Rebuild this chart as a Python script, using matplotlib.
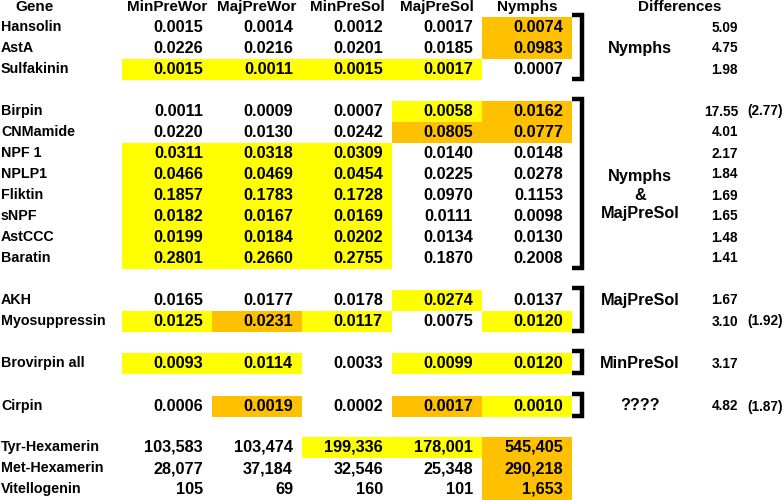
import matplotlib
matplotlib.use("Agg")
from matplotlib import pyplot as plt

# table data
columns = ["MinPreWor", "MajPreWor", "MinPreSol", "MajPreSol", "Nymphs"]

blocks = [
    ["Hansolin", "AstA", "Sulfakinin"],
    ["Birpin", "CNMamide", "NPF 1", "NPLP1", "Fliktin", "sNPF", "AstCCC", "Baratin"],
    ["AKH", "Myosuppressin"],
    ["Brovirpin all"],
    ["Cirpin"],
    ["Tyr-Hexamerin", "Met-Hexamerin", "Vitellogenin"],
]

min_pre_wor = [0.0015, 0.0226, 0.0015,
               0.0011, 0.0220, 0.0311, 0.0466, 0.1857, 0.0182, 0.0199, 0.2801,
               0.0165, 0.0125, 0.0093, 0.0006, 103583, 28077, 105]
maj_pre_wor = [0.0014, 0.0216, 0.0011,
               0.0009, 0.0130, 0.0318, 0.0469, 0.1783, 0.0167, 0.0184, 0.2660,
               0.0177, 0.0231, 0.0114, 0.0019, 103474, 37184, 69]
min_pre_sol = [0.0012, 0.0201, 0.0015,
               0.0007, 0.0242, 0.0309, 0.0454, 0.1728, 0.0169, 0.0202, 0.2755,
               0.0178, 0.0117, 0.0033, 0.0002, 199336, 32546, 160]
maj_pre_sol = [0.0017, 0.0185, 0.0017,
               0.0058, 0.0805, 0.0140, 0.0225, 0.0970, 0.0111, 0.0134, 0.1870,
               0.0274, 0.0075, 0.0099, 0.0017, 178001, 25348, 101]
nymphs = [0.0074, 0.0983, 0.0007,
          0.0162, 0.0777, 0.0148, 0.0278, 0.1153, 0.0098, 0.0130, 0.2008,
          0.0137, 0.0120, 0.0120, 0.0010, 545405, 290218, 1653]

# cell highlight: y = yellow, o = orange
highlight = [
    "....o", "....o", "yyyy.",
    "...yo", "...oo", "yyy..", "yyy..", "yyy..", "yyy..", "yyy..", "yyy..",
    "...y.", "yoy.y", "yy.yy", ".o.oy", "..yyo", "....o", "....o",
]

group_labels = ["Nymphs", "Nymphs\n&\nMajPreSol", "MajPreSol", "MinPreSol", "????"]
# row (inside its block) the label is centred on
group_label_row = [1, 4, 0, 0, 0]
differences = [5.09, 4.75, 1.98,
               17.55, 4.01, 2.17, 1.84, 1.69, 1.65, 1.48, 1.41,
               1.67, 3.10, 3.17, 4.82]
diff_extra = {3: "(2.77)", 12: "(1.92)", 14: "(1.87)"}

YELLOW = "#ffff00"
ORANGE = "#ffc000"

fig = plt.figure(figsize=(7.83, 5.00), dpi=100)
ax = fig.add_axes([0, 0, 1, 1])
ax.set_xlim(0, 783)
ax.set_ylim(500, 0)
ax.axis("off")

plt.rcParams["font.family"] = ["Liberation Sans", "DejaVu Sans"]

block_starts = [27, 111, 300, 363, 406, 447]
row_h = 21
genes = []
row_y = []
block_rows = []
for b, st in zip(blocks, block_starts):
    idx = []
    for i, g in enumerate(b):
        idx.append(len(genes))
        genes.append(g)
        row_y.append(st + i * row_h)
    block_rows.append(idx)

values = list(zip(min_pre_wor, maj_pre_wor, min_pre_sol, maj_pre_sol, nymphs))
col_left = [122, 212, 302, 392, 482]
col_w = 90


def fmt(v):
    if v >= 1:
        return "{:,.0f}".format(v)
    return "{:.4f}".format(v)


# header
ax.text(15, 7, "Gene", ha="left", va="center", fontsize=11, fontweight="bold")
for c, name in enumerate(columns):
    ax.text(col_left[c] + col_w / 2, 7, name, ha="center", va="center",
            fontsize=11, fontweight="bold")
ax.text(680, 7, "Differences", ha="center", va="center", fontsize=11, fontweight="bold")

for r, g in enumerate(genes):
    y = row_y[r]
    ax.text(1, y, g, ha="left", va="center", fontsize=10.3, fontweight="bold")
    for c in range(5):
        code = highlight[r][c]
        if code != ".":
            ax.add_patch(plt.Rectangle((col_left[c], y - 10.5), col_w, 21,
                                       facecolor=YELLOW if code == "y" else ORANGE,
                                       edgecolor="none", zorder=0))
        ax.text(col_left[c] + 81, y + 0.5, fmt(values[r][c]), ha="right", va="center",
                fontsize=11.7, fontweight="bold")

# brackets + group labels
for k, label in enumerate(group_labels):
    idx = block_rows[k]
    top = row_y[idx[0]] - 12
    bot = row_y[idx[-1]] + 10
    ax.plot([572, 582, 582, 572], [top, top, bot, bot], color="black",
            lw=3.2, solid_joinstyle="miter", solid_capstyle="butt")
    ymid = row_y[idx[group_label_row[k]]]
    ax.text(640, ymid, label, ha="center", va="center", fontsize=11.7,
            fontweight="bold", linespacing=1.3)

for r, d in enumerate(differences):
    y = row_y[r]
    ax.text(738, y + 0.5, "{:.2f}".format(d), ha="right", va="center",
            fontsize=9.8, fontweight="bold")
    if r in diff_extra:
        ax.text(747, y + 0.5, diff_extra[r], ha="left", va="center",
                fontsize=9.8, fontweight="bold")

fig.savefig("out.png", dpi=100)
